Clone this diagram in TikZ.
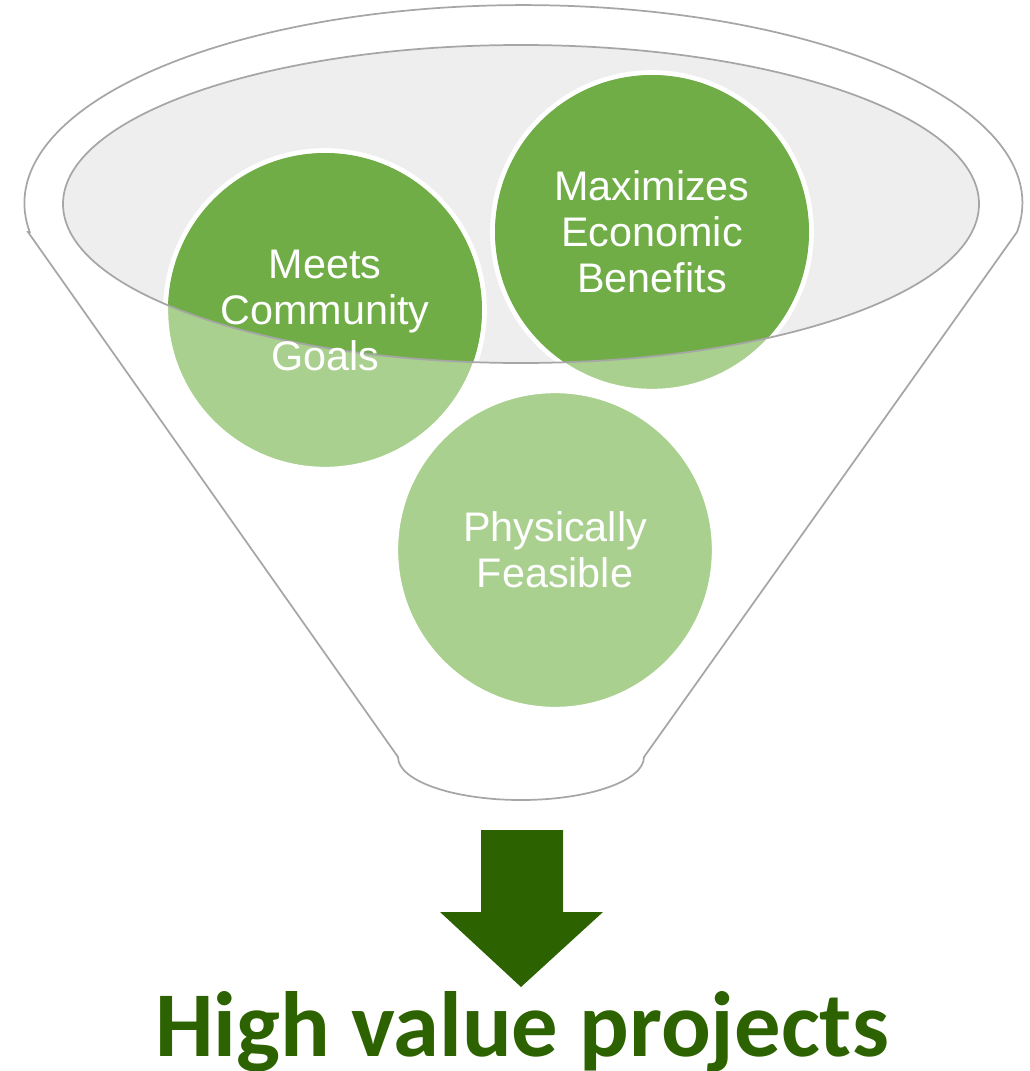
\documentclass[tikz,border=0pt]{standalone}
\usepackage{fontspec}
\setmainfont{Liberation Sans}
\newfontfamily\titlefont{Carlito}

\definecolor{leafdark}{RGB}{112,173,71}
\definecolor{leaflight}{RGB}{169,208,142}
\definecolor{bowlgray}{RGB}{238,238,238}
\definecolor{rimgray}{RGB}{166,166,166}
\definecolor{forest}{RGB}{45,98,0}

\tikzset{every picture/.style={line width=0.75pt}}
\tikzset{
  bubble/.style={circle, minimum size=239pt, inner sep=0pt, fill=leaflight, draw=white, line width=3.75pt},
  bubbletext/.style={text=white, align=center, inner sep=0pt, font=\fontsize{31}{34.5}\selectfont},
  rim/.style={draw=rimgray, line width=1.3pt},
  title/.style={text=forest, anchor=base, inner sep=0pt, font=\titlefont\bfseries\fontsize{69.5}{80}\selectfont}
}

\begin{document}
\begin{tikzpicture}[x=0.75pt,y=0.75pt,yscale=-1,xscale=1]
\useasboundingbox (0,0) rectangle (1030,1071);

% funnel outline
\draw [rim] (28,232) -- (398,757) arc [start angle=180, end angle=0, x radius=123, y radius=43]
  -- (1017,232) arc [start angle=8.4, end angle=-188.4, x radius=499, y radius=198] -- cycle ;

% bowl
\fill [bowlgray] (521,204) ellipse [x radius=458, y radius=159] ;

\node [bubble] (goals) at (325,310) {};
\node [bubble] (benefits) at (652,232) {};
\node [bubble] (feasible) at (555,550) {};

\begin{scope}
\clip (521,204) ellipse [x radius=458, y radius=159] ;
\fill [leafdark] (goals.center) circle (157) ;
\fill [leafdark] (benefits.center) circle (157) ;
\end{scope}

\draw [rim] (521,204) ellipse [x radius=458, y radius=159] ;

\node [bubbletext] (goalstext) at (goals.center) {Meets\\Community\\Goals};
\node [bubbletext] (benefitstext) at (benefits.center) {Maximizes\\Economic\\Benefits};
\node [bubbletext] (feasibletext) at (feasible.center) {Physically\\Feasible};

% arrow
\fill [forest] (481,830) -- (563,830) -- (563,912) -- (603,912) -- (521,987) -- (440,912) -- (481,912) -- cycle ;

\node [title] (result) at (522,1056) {High value projects};

\end{tikzpicture}
\end{document}
